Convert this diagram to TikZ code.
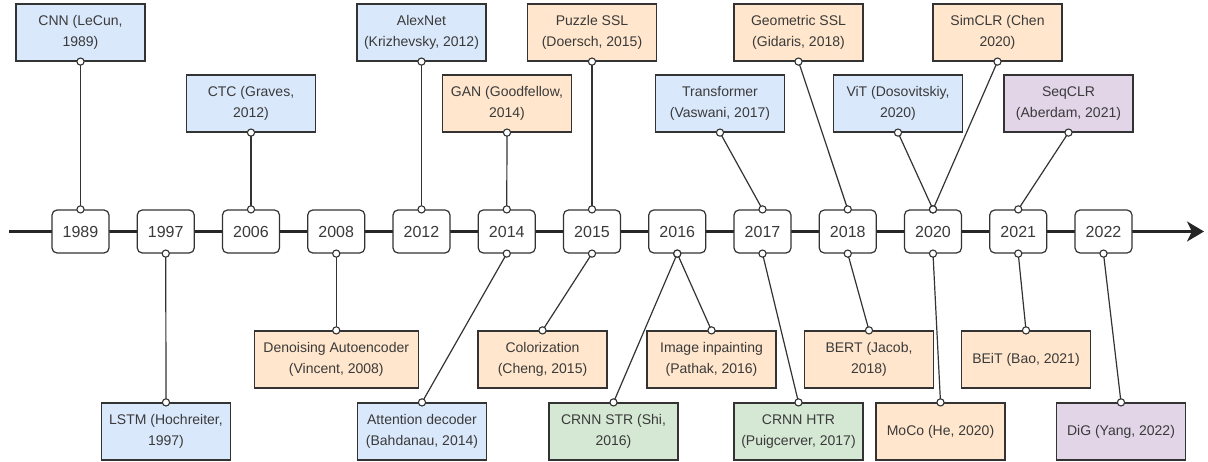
\documentclass[tikz,border=0pt]{standalone}
\usepackage{fontspec}
\setmainfont{Liberation Sans}
\usetikzlibrary{arrows.meta}
\definecolor{cblue}{HTML}{DAE8FC}
\definecolor{corange}{HTML}{FFE6CC}
\definecolor{cgreen}{HTML}{D5E8D4}
\definecolor{cpurple}{HTML}{E1D5E7}
\definecolor{ink}{HTML}{333333}
\definecolor{txt}{HTML}{3A3A3A}
\tikzset{
  ev/.style={draw=ink, line width=1.2pt, minimum width=129pt, minimum height=57pt, inner sep=0pt,
    align=center, text=txt, font=\fontsize{14}{21}\selectfont},
  evb/.style={ev, fill=cblue},
  evo/.style={ev, fill=corange},
  evg/.style={ev, fill=cgreen},
  evp/.style={ev, fill=cpurple},
  yr/.style={draw=ink, fill=white, line width=1.2pt, rounded corners=5pt, minimum width=57pt,
    minimum height=43pt, inner sep=0pt, text=txt, font=\fontsize{16}{19}\selectfont},
  conn/.style={draw=ink, line width=1.2pt},
  endc/.style={draw=ink, fill=white, line width=1.1pt},
  axis/.style={draw=black!85, line width=3pt, -{Stealth[length=17pt,width=20pt,inset=5pt]}}
}
\newcommand\linkev[2]{\draw[conn] (#1) -- (#2);
  \draw[endc] (#1) circle (3.6pt); \draw[endc] (#2) circle (3.6pt);}
\begin{document}
\begin{tikzpicture}[x=1pt,y=-1pt]
\useasboundingbox (0,0) rectangle (1208,462);
% timeline
\coordinate (ls) at (9,231.5);
\coordinate (le) at (1204,231.5);
\draw[axis] (ls) -- (le);
% years
\node[yr] (y1989) at (80.5,231.5) {1989};
\node[yr] (y1997) at (165.75,231.5) {1997};
\node[yr] (y2006) at (251,231.5) {2006};
\node[yr] (y2008) at (336.25,231.5) {2008};
\node[yr] (y2012) at (421.5,231.5) {2012};
\node[yr] (y2014) at (506.75,231.5) {2014};
\node[yr] (y2015) at (592,231.5) {2015};
\node[yr] (y2016) at (677.25,231.5) {2016};
\node[yr] (y2017) at (762.5,231.5) {2017};
\node[yr] (y2018) at (847.75,231.5) {2018};
\node[yr] (y2020) at (933,231.5) {2020};
\node[yr] (y2021) at (1018.25,231.5) {2021};
\node[yr] (y2022) at (1103.5,231.5) {2022};
% top events
\node[evb] (cnn) at (80.5,32.5) {CNN (LeCun,\\1989)};
\node[evb] (ctc) at (251,103.5) {CTC (Graves,\\2012)};
\node[evb] (alex) at (421.5,32.5) {AlexNet\\(Krizhevsky, 2012)};
\node[evo] (gan) at (507,103.5) {GAN (Goodfellow,\\2014)};
\node[evo] (puz) at (592,32.5) {Puzzle SSL\\(Doersch, 2015)};
\node[evb] (trf) at (720,103.5) {Transformer\\(Vaswani, 2017)};
\node[evo] (geo) at (798.5,32.5) {Geometric SSL\\(Gidaris, 2018)};
\node[evb] (vit) at (898,103.5) {ViT (Dosovitskiy,\\2020)};
\node[evo] (sim) at (997.5,32.5) {SimCLR (Chen\\2020)};
\node[evp] (seq) at (1068.5,103.5) {SeqCLR\\(Aberdam, 2021)};
% bottom events
\node[evb] (lstm) at (166,431.5) {LSTM (Hochreiter,\\1997)};
\node[evo, minimum width=164pt] (dae) at (336.25,359.5) {Denoising Autoencoder\\(Vincent, 2008)};
\node[evb] (att) at (422,431.5) {Attention decoder\\(Bahdanau, 2014)};
\node[evo] (col) at (542.5,359.5) {Colorization\\(Cheng, 2015)};
\node[evo] (inp) at (711.5,359.5) {Image inpainting\\(Pathak, 2016)};
\node[evg] (str) at (613.5,431.5) {CRNN STR (Shi,\\2016)};
\node[evg] (htr) at (798.5,431.5) {CRNN HTR\\(Puigcerver, 2017)};
\node[evo] (bert) at (869,359.5) {BERT (Jacob,\\2018)};
\node[evo] (moco) at (940.5,431.5) {MoCo (He, 2020)};
\node[evo] (beit) at (1026,359.5) {BEiT (Bao, 2021)};
\node[evp] (dig) at (1121,431.5) {DiG (Yang, 2022)};
% top links
\linkev{cnn.south}{y1989.north}
\linkev{ctc.south}{y2006.north}
\linkev{alex.south}{y2012.north}
\linkev{gan.south}{y2014.north}
\linkev{puz.south}{y2015.north}
\linkev{trf.south}{y2017.north}
\linkev{geo.south}{y2018.north}
\linkev{vit.south}{y2020.north}
\linkev{sim.south}{y2020.north}
\linkev{seq.south}{y2021.north}
% bottom links
\linkev{y1997.south}{lstm.north}
\linkev{y2008.south}{dae.north}
\linkev{y2014.south}{att.north}
\linkev{y2015.south}{col.north}
\linkev{y2016.south}{inp.north}
\linkev{y2016.south}{str.north}
\linkev{y2017.south}{htr.north}
\linkev{y2018.south}{bert.north}
\linkev{y2020.south}{moco.north}
\linkev{y2021.south}{beit.north}
\linkev{y2022.south}{dig.north}
\end{tikzpicture}
\end{document}
